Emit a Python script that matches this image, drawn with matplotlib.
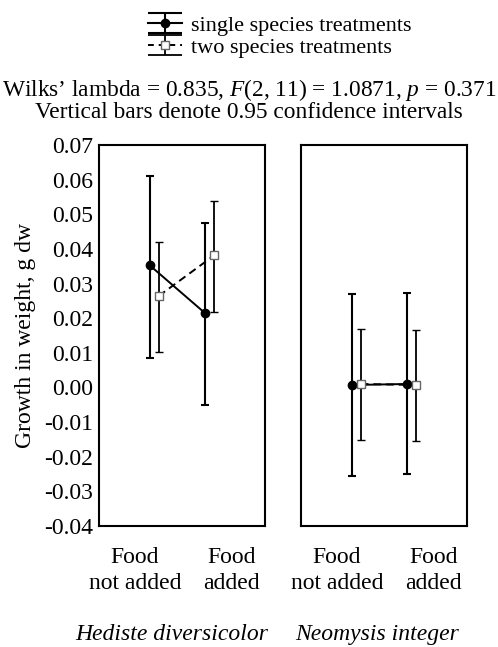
import matplotlib.pyplot as plt
from matplotlib.path import Path
from matplotlib.lines import Line2D
import numpy as np

plt.rcParams['font.family'] = ['Liberation Serif', 'DejaVu Serif']
plt.rcParams['mathtext.fontset'] = 'custom'
plt.rcParams['mathtext.it'] = 'Liberation Serif:italic'
plt.rcParams['mathtext.rm'] = 'Liberation Serif'

species = ['Hediste diversicolor', 'Neomysis integer']
treatments = ['Food\nnot added', 'Food\nadded']

# means and 95% CI limits, [species][treatment]
single_mean = [[0.0352, 0.0214], [0.0007, 0.0010]]
single_lo = [[0.0085, -0.0051], [-0.0256, -0.0251]]
single_hi = [[0.0611, 0.0476], [0.0269, 0.0272]]
two_mean = [[0.0264, 0.0381], [0.0010, 0.0007]]
two_lo = [[0.0101, 0.0219], [-0.0152, -0.0155]]
two_hi = [[0.0421, 0.0538], [0.0168, 0.0165]]

yticks = np.round(np.arange(-0.04, 0.0701, 0.01), 2)
FS = 17

fig = plt.figure(figsize=(4.98, 6.47), dpi=100)
ax1 = fig.add_axes([0.1988, 0.187, 0.3333, 0.589])
ax2 = fig.add_axes([0.6044, 0.187, 0.3333, 0.589])

x = np.arange(2)
d = 0.08
for i, ax in enumerate([ax1, ax2]):
    m = np.array(single_mean[i])
    e = [m - np.array(single_lo[i]), np.array(single_hi[i]) - m]
    ax.errorbar(x - d, m, yerr=e, fmt='-o', color='black', ms=6, lw=1.4,
                elinewidth=1.5, capsize=2.6, capthick=1.5, zorder=3)
    m2 = np.array(two_mean[i])
    e2 = [m2 - np.array(two_lo[i]), np.array(two_hi[i]) - m2]
    ax.errorbar(x + d, m2, yerr=e2, fmt='--s', color='black', mfc='white',
                mec='#666666', mew=1.0, ms=6, lw=1.4, dashes=(4, 2.5),
                elinewidth=1.3, capsize=2.6, capthick=1.3, zorder=4)
    ax.set_xlim(-1, 2)
    ax.set_ylim(-0.04, 0.07)
    ax.set_xticks([-0.35, 1.4])
    ax.set_xticklabels(treatments, fontsize=FS, linespacing=1.35)
    ax.tick_params(axis='x', length=0, pad=15)
    ax.tick_params(axis='y', length=0, pad=4, labelsize=FS)
    ax.set_yticks(yticks)
    for s in ax.spines.values():
        s.set_linewidth(1.5)
    if i == 0:
        ax.set_yticklabels([f'{v:.2f}' for v in yticks])
    else:
        ax.set_yticklabels([])

ax1.set_ylabel('Growth in weight, g dw', fontsize=FS, labelpad=6)

fig.text(0.345, 0.0108, species[0], style='italic', fontsize=FS, ha='center',
         va='baseline')
fig.text(0.757, 0.0108, species[1], style='italic', fontsize=FS, ha='center',
         va='baseline')

fig.text(0.5, 0.8176,
         "Wilks\u2019 lambda = 0.835, $F$(2, 11) = 1.0871, $p$ = 0.371\n"
         "Vertical bars denote 0.95 confidence intervals",
         ha='center', va='baseline', fontsize=16.8, linespacing=0.95)

# I-beam marker for the legend (error bar with caps)
ibeam = Path([(-1, 0.6), (1, 0.6), (0, 0.6), (0, -0.6), (-1, -0.6), (1, -0.6)],
             [Path.MOVETO, Path.LINETO, Path.MOVETO, Path.LINETO, Path.MOVETO, Path.LINETO])
cap1 = Line2D([], [], ls='none', marker=ibeam, ms=24, mew=1.5, color='black')
line1 = Line2D([], [], color='black', lw=1.5, marker='o', ms=6)
cap2 = Line2D([], [], ls='none', marker=ibeam, ms=24, mew=1.3, color='black')
line2 = Line2D([], [], color='black', lw=1.4, ls='--', dashes=(3, 2.5), marker='s',
               ms=6, mfc='white', mec='#666666', mew=1.0)

fig.legend([(cap1, line1), (cap2, line2)],
           ['single species treatments', 'two species treatments'],
           loc='upper left', bbox_to_anchor=(0.297, 0.976), frameon=False,
           fontsize=16, handlelength=1.53, handletextpad=0.4, labelspacing=0.05,
           borderpad=0, borderaxespad=0)

fig.savefig('out.png', dpi=100)
